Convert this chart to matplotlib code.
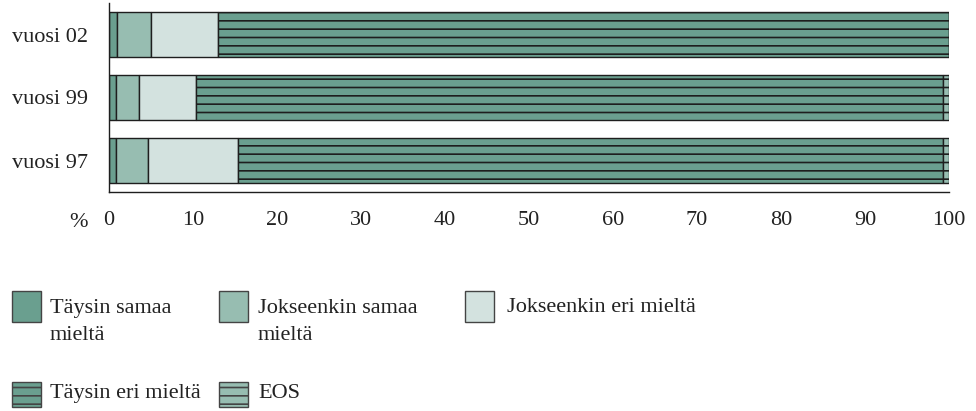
import matplotlib
matplotlib.use("Agg")
import matplotlib.pyplot as plt
from matplotlib.patches import Rectangle
import numpy as np

plt.rcParams['font.family'] = ['Liberation Serif', 'DejaVu Serif']
plt.rcParams['hatch.color'] = '#1e1e1e'
plt.rcParams['hatch.linewidth'] = 1.2

years = ['vuosi 97', 'vuosi 99', 'vuosi 02']
series_names = ['Täysin samaa mieltä', 'Jokseenkin samaa mieltä',
                'Jokseenkin eri mieltä', 'Täysin eri mieltä', 'EOS']
legend_labels = ['Täysin samaa\nmieltä', 'Jokseenkin samaa\nmieltä',
                 'Jokseenkin eri mieltä', 'Täysin eri mieltä', 'EOS']
taysin_samaa = [0.8, 0.8, 1.0]
jokseenkin_samaa = [3.8, 2.8, 4.0]
jokseenkin_eri = [10.8, 6.8, 8.0]
taysin_eri = [83.9, 88.9, 87.0]
eos = [0.7, 0.7, 0.0]
xticks = [0, 10, 20, 30, 40, 50, 60, 70, 80, 90, 100]

values = [taysin_samaa, jokseenkin_samaa, jokseenkin_eri, taysin_eri, eos]
colors = ['#6a9f8f', '#97bdb1', '#d3e2df', '#6a9f8f', '#97bdb1']
hatches = [None, None, None, '--', '--']

FS = 16
TC = '#222222'
W, H = 976, 411
fig = plt.figure(figsize=(W / 100, H / 100), dpi=100)
ax = fig.add_axes([109 / W, 1 - 192 / H, (949 - 109) / W, (192 - 3) / H])

y = np.arange(len(years))
left = np.zeros(len(years))
for vals, col, hat in zip(values, colors, hatches):
    ax.barh(y, vals, left=left, height=0.73, color=col, edgecolor='#1e1e1e',
            linewidth=1.0, hatch=hat)
    left += np.array(vals)

ax.set_xlim(0, 100)
ax.set_ylim(-0.5, 2.5)
ax.set_yticks(y)
ax.set_yticklabels(years, fontsize=FS, color=TC)
ax.set_xticks(xticks)
ax.set_xticklabels([str(t) for t in xticks], fontsize=FS, color=TC)
ax.tick_params(axis='x', length=0, pad=14)
ax.tick_params(axis='y', length=0, pad=15)
for s in ['top', 'right']:
    ax.spines[s].set_visible(False)
for s in ['left', 'bottom']:
    ax.spines[s].set_color('#1e1e1e')
    ax.spines[s].set_linewidth(1.0)
ax.text(78 / W, 1 - 227 / H, '%', transform=fig.transFigure, fontsize=FS,
        color=TC, ha='center', va='baseline')

# legend (manual layout)
leg_pos = [(12, 291, 31), (219, 291, 31), (465, 291, 31), (12, 382, 25), (219, 382, 25)]
text_x = [50, 258, 507, 50, 258]
text_base = [340, 340, 312, 398, 398]  # baseline of last line
for (px, py, ph), tx, tb, lab, col, hat in zip(leg_pos, text_x, text_base,
                                               legend_labels, colors, hatches):
    r = Rectangle((px / W, 1 - (py + ph) / H), 29 / W, ph / H, transform=fig.transFigure,
                  facecolor=col, edgecolor='#444444', linewidth=1.0, hatch=hat)
    fig.patches.append(r)
    fig.text(tx / W, 1 - tb / H, lab, fontsize=FS, color=TC,
             ha='left', va='baseline', linespacing=1.6)

fig.savefig('out.png', dpi=100)
